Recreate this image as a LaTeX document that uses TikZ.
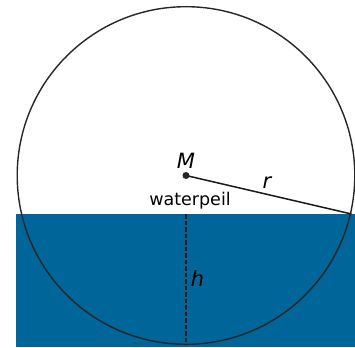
\documentclass[tikz,border=0pt]{standalone}
\usepackage{fontspec}
\setmainfont{DejaVu Sans}
\definecolor{water}{RGB}{0,102,153}
\begin{document}
\begin{tikzpicture}[x=1pt,y=-1pt,
  outline/.style={draw=black!85,line width=1.4pt},
  lbl/.style={font=\fontsize{17.5}{20}\selectfont,inner sep=0pt},
  mlbl/.style={font=\fontsize{21}{24}\selectfont\itshape,inner sep=0pt}]
\useasboundingbox (0,0) rectangle (355,347);
\fill[water] (16,214) rectangle (355,347);
\coordinate (M) at (186,175.5);
\draw[outline] (M) circle (168.8);
\coordinate (P) at (351.5,214);
\coordinate (W) at (186,214);
\coordinate (B) at (186,344.3);
\draw[line width=1.5pt,black!90] (M) -- (P);
\draw[line width=1.4pt,black!90,dash pattern=on 4.5pt off 2pt] (W) -- (B);
\fill[black!85] (M) circle (3.5pt);
\node[mlbl] (lM) at (186,161) {M};
\node[mlbl] (lr) at (267,183) {r};
\node[mlbl] (lh) at (197.5,279) {h};
\node[lbl] (lw) at (190,200.5) {waterpeil};
\end{tikzpicture}
\end{document}
